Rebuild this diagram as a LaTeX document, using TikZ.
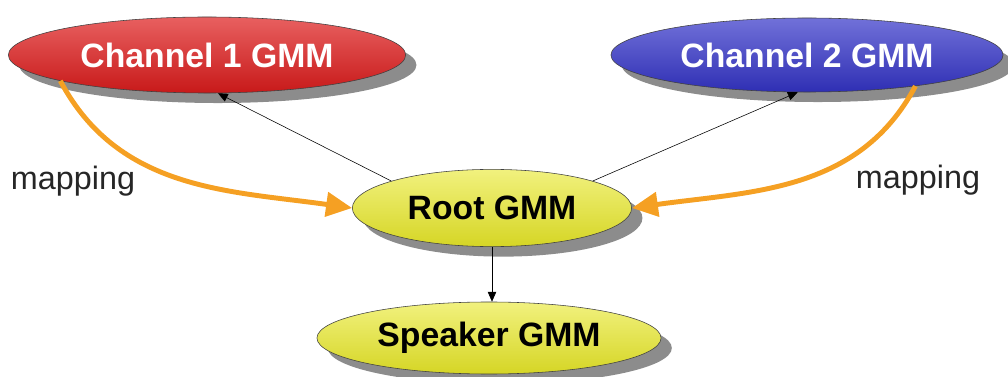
\documentclass[tikz,border=0pt]{standalone}
\usepackage{fontspec}
\setmainfont{Liberation Sans}
\usetikzlibrary{shapes.geometric, arrows.meta, shadows}

\definecolor{chred}{RGB}{222,28,28}
\definecolor{chblue}{RGB}{52,52,200}
\definecolor{gmmyellow}{RGB}{232,232,40}
\definecolor{maporange}{RGB}{245,160,35}

\begin{document}
\begin{tikzpicture}[x=0.025cm, y=0.025cm,
  gmm/.style={ellipse, draw=black!75, inner sep=0pt,
    font=\fontsize{24}{28}\selectfont\bfseries,
    drop shadow={shadow xshift=0.27cm, shadow yshift=-0.25cm, fill=black!45, opacity=1}},
  redgmm/.style={gmm, top color=chred!70!white, middle color=chred, bottom color=chred!90!black, text=white},
  bluegmm/.style={gmm, top color=chblue!70!white, middle color=chblue, bottom color=chblue!90!black, text=white},
  yellowgmm/.style={gmm, top color=gmmyellow!60!white, middle color=gmmyellow, bottom color=gmmyellow!92!black, text=black},
  map/.style={draw=maporange, line width=3.5pt, -{Triangle[length=0.65cm,width=0.6cm]}},
  link/.style={thin, -{Triangle[length=7pt,width=6pt]}},
  maptext/.style={font=\fontsize{23}{26}\selectfont, text=black!85}]

  \useasboundingbox (0,0) rectangle (1008,376);

  \node[redgmm, minimum width=9.93cm, minimum height=1.9cm] (ch1) at (207,321) {Channel 1 GMM};
  \node[bluegmm, minimum width=9.8cm, minimum height=1.85cm] (ch2) at (807,321) {Channel 2 GMM};
  \node[yellowgmm, minimum width=6.98cm, minimum height=1.93cm] (root) at (492,168) {Root GMM};
  \node[yellowgmm, minimum width=8.6cm, minimum height=1.8cm] (spk) at (489,38) {Speaker GMM};

  \node[maptext] (mapl) at (73,195) {mapping};
  \node[maptext] (mapr) at (918,196) {mapping};

  % mapping arrows into the root model
  \draw[map] (ch1.190) to[out=-62, in=172] (root.west);
  \draw[map] (ch2.-16) to[out=-118, in=8] (root.east);

  \draw[link] (root.165) -- (ch1.-74);
  \draw[link] (root.15) -- (ch2.-104);
  \draw[link] (root.south) -- (root.south |- spk.north);

\end{tikzpicture}
\end{document}
